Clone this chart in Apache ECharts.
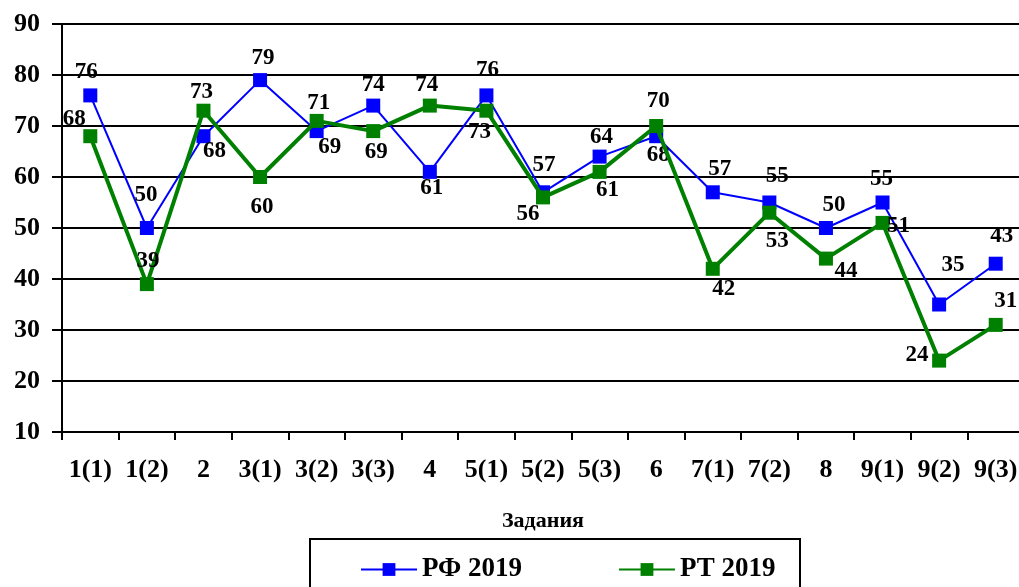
<!DOCTYPE html>
<html>
<head>
<meta charset="utf-8">
<script src="https://cdn.jsdelivr.net/npm/echarts@6/dist/echarts.min.js"></script>
<style>html,body{margin:0;padding:0;background:#fff}#c{width:1019px;height:587px}</style>
</head>
<body>
<div id="c"></div>
<script>
const categories = ['1(1)','1(2)','2','3(1)','3(2)','3(3)','4','5(1)','5(2)','5(3)','6','7(1)','7(2)','8','9(1)','9(2)','9(3)'];
const rfValues = [76,50,68,79,69,74,61,76,57,64,68,57,55,50,55,35,43];
const rtValues = [68,39,73,60,71,69,74,73,56,61,70,42,53,44,51,24,31];
const rfName = 'РФ 2019';
const rtName = 'РТ 2019';
const axisTitle = 'Задания';
// label placement offsets from point centre (style only)
const rfLabelOffsets = [[-4,-23],[-1,-33],[11,15],[3,-22],[13,16],[0,-21],[2,16],[1,-25],[1,-27],[2,-20],[2,19],[7,-23],[8,-26],[8,-23],[-1,-23],[14,-39],[6,-28]];
const rtLabelOffsets = [[-16,-17],[1,-23],[-2,-19],[2,30],[2,-18],[3,21],[-3,-21],[-7,21],[-15,17],[8,18],[2,-25],[11,20],[8,28],[20,12],[16,3],[-22,-6],[10,-24]];

const font = '"Liberation Serif","Times New Roman",serif';
function mk(vals, offs) {
  return vals.map((v,i)=>({value:v,label:{offset:offs[i]}}));
}
const chart = echarts.init(document.getElementById('c'));
chart.setOption({
  animation:false,
  backgroundColor:'#fff',
  grid:{left:62,top:24,width:962,height:408,containLabel:false,outerBoundsMode:'none'},
  xAxis:{
    type:'category',data:categories,boundaryGap:true,
    name:axisTitle,nameLocation:'middle',nameGap:78,
    nameTextStyle:{fontFamily:font,fontWeight:'bold',fontSize:22,color:'#000'},
    axisLine:{lineStyle:{color:'#000',width:2}},
    axisTick:{show:true,length:8,lineStyle:{color:'#000',width:2},alignWithLabel:false},
    axisLabel:{fontFamily:font,fontWeight:'bold',fontSize:26,color:'#000',margin:25,interval:0}
  },
  yAxis:{
    type:'value',min:10,max:90,interval:10,
    axisLine:{show:true,lineStyle:{color:'#000',width:2}},
    axisTick:{show:true,length:10,inside:false,lineStyle:{color:'#000',width:2}},
    axisLabel:{fontFamily:font,fontWeight:'bold',fontSize:26,color:'#000',margin:22},
    splitLine:{show:true,lineStyle:{color:'#000',width:2}}
  },
  legend:{
    left:355,top:551,itemGap:96,itemWidth:56,itemHeight:16,
    textStyle:{fontFamily:font,fontWeight:'bold',fontSize:27,color:'#000'},
    data:[rfName,rtName]
  },
  graphic:[{type:'rect',shape:{x:310,y:539,width:490,height:60},style:{fill:'none',stroke:'#000',lineWidth:2},z:-1}],
  series:[
    {name:rfName,type:'line',data:mk(rfValues,rfLabelOffsets),symbol:'rect',symbolSize:14,
     lineStyle:{color:'#0000ff',width:2},itemStyle:{color:'#0000ff'},
     label:{show:true,position:'inside',fontFamily:font,fontWeight:'bold',fontSize:23,color:'#000'},z:2},
    {name:rtName,type:'line',data:mk(rtValues,rtLabelOffsets),symbol:'rect',symbolSize:14,
     lineStyle:{color:'#008000',width:4},itemStyle:{color:'#008000'},
     label:{show:true,position:'inside',fontFamily:font,fontWeight:'bold',fontSize:23,color:'#000'},z:3}
  ]
});
</script>
</body>
</html>
